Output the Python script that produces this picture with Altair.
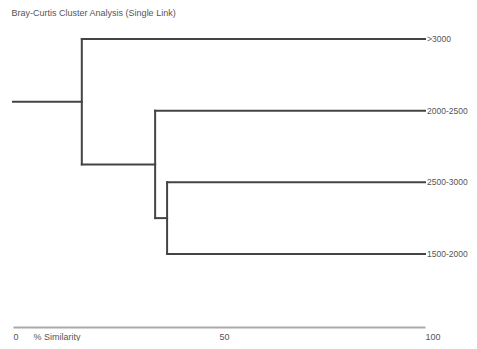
import altair as alt
import pandas as pd

# Leaves (top to bottom) and merge similarity levels (%)
leaves = [">3000", "2000-2500", "2500-3000", "1500-2000"]
leaf_pos = [0, 1, 2, 3]
# merges: (child_a, child_b, similarity)
merge_a = ["2500-3000", "2000-2500", ">3000"]
merge_b = ["1500-2000", "C1", "C2"]
merge_sim = [37.4, 34.5, 16.7]
merge_name = ["C1", "C2", "C3"]
ticks = [0, 50, 100]

# build node positions
node_x = {l: 100.0 for l in leaves}
node_y = {l: p for l, p in zip(leaves, leaf_pos)}
segs = []
for a, b, s, n in zip(merge_a, merge_b, merge_sim, merge_name):
    for c in (a, b):
        segs.append({"x": s, "x2": node_x[c], "y": node_y[c], "y2": node_y[c]})
    segs.append({"x": s, "x2": s, "y": node_y[a], "y2": node_y[b]})
    node_x[n] = s
    node_y[n] = (node_y[a] + node_y[b]) / 2
# root stem
segs.append({"x": 0, "x2": node_x["C3"], "y": node_y["C3"], "y2": node_y["C3"]})
seg_df = pd.DataFrame(segs)
lab_df = pd.DataFrame({"label": leaves, "x": [100] * 4, "y": leaf_pos})

xs = alt.Scale(domain=[0, 100], nice=False, zero=False)
ys = alt.Scale(domain=[-0.084, 4.02], nice=False, zero=False, reverse=True)

lines = alt.Chart(seg_df).mark_rule(color="#444444", strokeWidth=2, strokeCap="square").encode(
    x=alt.X("x:Q", scale=xs, axis=alt.Axis(
        values=ticks, format="d", ticks=False, grid=False,
        domainColor="#aaaaaa", domainWidth=2, labelAlign="left",
        labelBaseline="middle", labelPadding=9, labelFontSize=9, labelColor="#555555",
        labelFont="Liberation Sans", labelFlush=False,
        title="% Similarity", titleAlign="left", titleAnchor="start",
        titleX=20, titleY=9, titleBaseline="middle", titleFontSize=9,
        titleFontWeight="normal", titleColor="#555555", titleFont="Liberation Sans")),
    x2="x2:Q",
    y=alt.Y("y:Q", scale=ys, axis=None),
    y2="y2:Q",
)

labels = alt.Chart(lab_df).mark_text(
    align="left", baseline="middle", dx=2, fontSize=8.5, color="#555555",
    font="Liberation Sans"
).encode(
    x=alt.X("x:Q", scale=xs),
    y=alt.Y("y:Q", scale=ys),
    text="label:N",
)

chart = (lines + labels).properties(
    width=412, height=294,
    padding={"left": 5, "top": 25, "right": 44, "bottom": 14},
    autosize=alt.AutoSizeParams(type="none"),
    title=alt.TitleParams("Bray-Curtis Cluster Analysis (Single Link)", anchor="start",
                          fontSize=9, fontWeight="normal", color="#555555",
                          font="Liberation Sans", offset=15),
).configure_view(stroke=None)

chart.save("out.html", embed_options={"renderer": "svg", "actions": False})
